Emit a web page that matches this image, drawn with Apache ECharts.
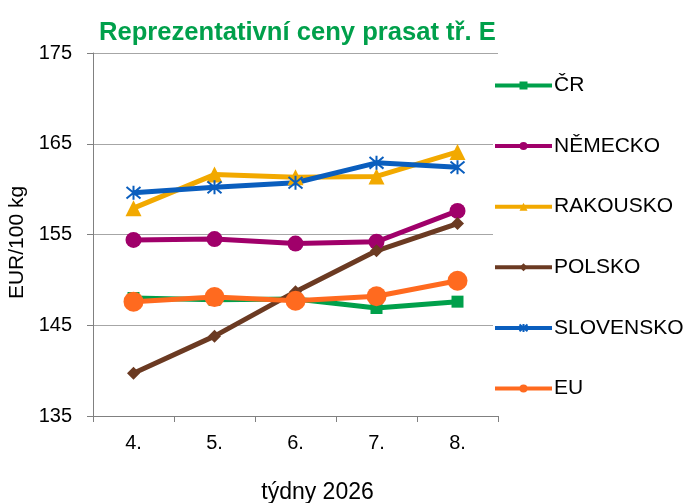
<!DOCTYPE html>
<html>
<head>
<meta charset="utf-8">
<script src="https://cdn.jsdelivr.net/npm/echarts@6/dist/echarts.min.js"></script>
<style>
  html, body { margin: 0; padding: 0; background: #fff; }
  #chart { width: 685px; height: 503px; }
</style>
</head>
<body>
<div id="chart"></div>
<script>
const weeks = ['4.', '5.', '6.', '7.', '8.'];
const cr = [148.0, 147.8, 147.9, 146.9, 147.6];
const nemecko = [154.4, 154.5, 154.0, 154.2, 157.6];
const rakousko = [157.9, 161.6, 161.3, 161.4, 164.1];
const polsko = [139.7, 143.8, 148.7, 153.2, 156.2];
const slovensko = [159.6, 160.2, 160.7, 162.9, 162.4];
const eu = [147.6, 148.1, 147.7, 148.2, 149.9];

const font = 'Liberation Sans, Arial, sans-serif';
const star = 'path://M0,0L10,10M10,0L0,10M5,-1L5,11';

const makeSeries = (name, data, color, symbol, size, extra) => ({
  name: name,
  type: 'line',
  data: data,
  symbol: symbol,
  symbolSize: size,
  showAllSymbol: true,
  lineStyle: { color: color, width: 5 },
  itemStyle: Object.assign({ color: color }, extra || {}),
  emphasis: { disabled: true }
});

const chart = echarts.init(document.getElementById('chart'));

chart.setOption({
  animation: false,
  title: {
    text: 'Reprezentativní ceny prasat tř. E',
    left: 94,
    top: 15,
    textStyle: { color: '#00A04B', fontSize: 25.6, fontWeight: 'bold', fontFamily: font }
  },
  legend: {
    orient: 'vertical',
    left: 493,
    top: 75,
    itemGap: 39.6,
    itemWidth: 57,
    itemHeight: 10,
    backgroundColor: '#fff',
    padding: [0, 0, 0, 0],
    lineStyle: { width: 4 },
    textStyle: { fontSize: 21, color: '#000', fontFamily: font, padding: [0, 0, 0, -3] },
    data: ['ČR', 'NĚMECKO', 'RAKOUSKO', 'POLSKO', 'SLOVENSKO', 'EU']
  },
  grid: { left: 93, right: 187, top: 53, bottom: 87, outerBoundsMode: 'none' },
  xAxis: {
    type: 'category',
    data: weeks,
    boundaryGap: true,
    name: 'týdny 2026',
    nameLocation: 'middle',
    nameGap: 65,
    nameTextStyle: { fontSize: 23, color: '#000', fontFamily: font, padding: [0, 0, 0, 44] },
    axisLine: { lineStyle: { color: '#808080', width: 1 } },
    axisTick: { show: true, length: 6, lineStyle: { color: '#808080' } },
    axisLabel: { fontSize: 20, color: '#000', fontFamily: font, margin: 17 },
    splitLine: { show: false }
  },
  yAxis: {
    type: 'value',
    min: 135,
    max: 175,
    interval: 10,
    name: 'EUR/100 kg',
    nameLocation: 'middle',
    nameGap: 60,
    nameTextStyle: { fontSize: 21, color: '#000', fontFamily: font, padding: [0, 16, 0, 0] },
    axisLine: { show: true, lineStyle: { color: '#808080', width: 1 } },
    axisTick: { show: true, length: 6, lineStyle: { color: '#808080' } },
    axisLabel: { fontSize: 20, color: '#000', fontFamily: font, margin: 21 },
    splitLine: { lineStyle: { color: '#a6a6a6', width: 1 } }
  },
  series: [
    makeSeries('ČR', cr, '#00A04B', 'rect', 12),
    makeSeries('NĚMECKO', nemecko, '#A0006A', 'circle', 16),
    makeSeries('RAKOUSKO', rakousko, '#F2A900', 'triangle', 16),
    makeSeries('POLSKO', polsko, '#6B3A22', 'diamond', 13),
    makeSeries('SLOVENSKO', slovensko, '#0A5EBE', star, 14, { borderColor: '#0A5EBE', borderWidth: 2 }),
    makeSeries('EU', eu, '#FF6A1F', 'circle', 20)
  ]
});
</script>
</body>
</html>
